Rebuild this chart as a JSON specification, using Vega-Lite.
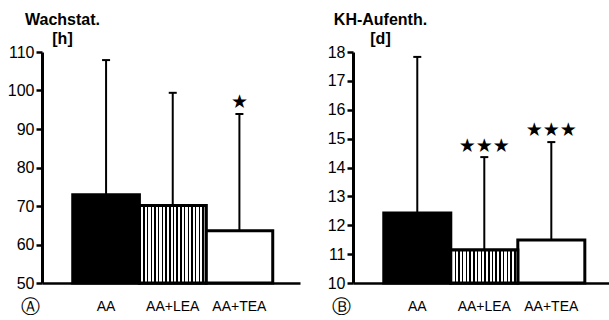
{
  "$schema": "https://vega.github.io/schema/vega-lite/v6.json",
  "padding": {"left": 7, "top": 11, "right": 0, "bottom": 0},
  "background": "white",
  "config": {
    "view": {"stroke": null},
    "font": "Liberation Sans",
    "axisY": {"domainColor": "black", "domainWidth": 3, "tickColor": "black", "tickWidth": 2.5, "tickSize": 6, "labelPadding": 2, "labelFontSize": 16, "labelColor": "black", "grid": false, "titleAngle": 0, "titleAlign": "center", "titleBaseline": "alphabetic", "titleFontSize": 16, "titleFontWeight": "bold", "titleLineHeight": 19, "titleColor": "black", "titleY": -28},
    "axisX": {"domainColor": "black", "domainWidth": 2.5, "ticks": false, "labelAngle": 0, "labelFontSize": 14, "labelColor": "black", "labelPadding": 23, "labelBaseline": "middle", "titleFontSize": 19, "titleFontWeight": "normal", "titleColor": "black", "titleAlign": "center", "titleBaseline": "middle", "titleX": -12, "titleY": 23, "titleFont": "DejaVu Sans"}
  },
  "datasets": {
    "a": [
      {"group": "AA", "mean": 72.9, "top": 107.9, "star": null, "stars": null},
      {"group": "AA+LEA", "mean": 70.1, "top": 99.4, "star": null, "stars": null},
      {"group": "AA+TEA", "mean": 63.6, "top": 93.9, "star": 97, "stars": "★"}
    ],
    "b": [
      {"group": "AA", "mean": 12.42, "top": 17.83, "star": null, "stars": null},
      {"group": "AA+LEA", "mean": 11.14, "top": 14.36, "star": 14.74, "stars": "★★★"},
      {"group": "AA+TEA", "mean": 11.49, "top": 14.88, "star": 15.3, "stars": "★★★"}
    ]
  },
  "spacing": 53,
  "bounds": "flush",
  "hconcat": [
    {
      "width": 258,
      "height": 231,
      "data": {"name": "a"},
      "encoding": {
        "x": {"field": "group", "type": "nominal", "sort": null, "scale": {"paddingInner": 0, "paddingOuter": 0.435, "align": 0.53}, "axis": {"title": "Ⓐ"}}
      },
      "layer": [
        {
          "mark": {"type": "bar", "stroke": "black", "strokeWidth": 3},
          "encoding": {
            "y": {"field": "mean", "type": "quantitative", "scale": {"domain": [50, 110], "zero": false, "nice": false}, "axis": {"title": ["Wachstat.", "[h]"], "values": [50, 60, 70, 80, 90, 100, 110], "titleX": 20}},
            "y2": {"datum": 50},
            "fill": {"condition": {"test": "datum.group === 'AA'", "value": "black"}, "value": "white"}
          }
        },
        {
          "transform": [{"filter": "datum.group === 'AA+LEA'"}],
          "mark": {"type": "bar", "stroke": "black", "strokeWidth": 3, "fill": {"gradient": "linear", "x1": 0, "x2": 1, "y1": 0, "y2": 0, "stops": [
            {"offset": 0, "color": "black"}, {"offset": 0.0222, "color": "black"}, {"offset": 0.0222, "color": "white"}, {"offset": 0.0556, "color": "white"},
            {"offset": 0.0556, "color": "black"}, {"offset": 0.0778, "color": "black"}, {"offset": 0.0778, "color": "white"}, {"offset": 0.1111, "color": "white"},
            {"offset": 0.1111, "color": "black"}, {"offset": 0.1333, "color": "black"}, {"offset": 0.1333, "color": "white"}, {"offset": 0.1667, "color": "white"},
            {"offset": 0.1667, "color": "black"}, {"offset": 0.1889, "color": "black"}, {"offset": 0.1889, "color": "white"}, {"offset": 0.2222, "color": "white"},
            {"offset": 0.2222, "color": "black"}, {"offset": 0.2444, "color": "black"}, {"offset": 0.2444, "color": "white"}, {"offset": 0.2778, "color": "white"},
            {"offset": 0.2778, "color": "black"}, {"offset": 0.3, "color": "black"}, {"offset": 0.3, "color": "white"}, {"offset": 0.3333, "color": "white"},
            {"offset": 0.3333, "color": "black"}, {"offset": 0.3556, "color": "black"}, {"offset": 0.3556, "color": "white"}, {"offset": 0.3889, "color": "white"},
            {"offset": 0.3889, "color": "black"}, {"offset": 0.4111, "color": "black"}, {"offset": 0.4111, "color": "white"}, {"offset": 0.4444, "color": "white"},
            {"offset": 0.4444, "color": "black"}, {"offset": 0.4667, "color": "black"}, {"offset": 0.4667, "color": "white"}, {"offset": 0.5, "color": "white"},
            {"offset": 0.5, "color": "black"}, {"offset": 0.5222, "color": "black"}, {"offset": 0.5222, "color": "white"}, {"offset": 0.5556, "color": "white"},
            {"offset": 0.5556, "color": "black"}, {"offset": 0.5778, "color": "black"}, {"offset": 0.5778, "color": "white"}, {"offset": 0.6111, "color": "white"},
            {"offset": 0.6111, "color": "black"}, {"offset": 0.6333, "color": "black"}, {"offset": 0.6333, "color": "white"}, {"offset": 0.6667, "color": "white"},
            {"offset": 0.6667, "color": "black"}, {"offset": 0.6889, "color": "black"}, {"offset": 0.6889, "color": "white"}, {"offset": 0.7222, "color": "white"},
            {"offset": 0.7222, "color": "black"}, {"offset": 0.7444, "color": "black"}, {"offset": 0.7444, "color": "white"}, {"offset": 0.7778, "color": "white"},
            {"offset": 0.7778, "color": "black"}, {"offset": 0.8, "color": "black"}, {"offset": 0.8, "color": "white"}, {"offset": 0.8333, "color": "white"},
            {"offset": 0.8333, "color": "black"}, {"offset": 0.8556, "color": "black"}, {"offset": 0.8556, "color": "white"}, {"offset": 0.8889, "color": "white"},
            {"offset": 0.8889, "color": "black"}, {"offset": 0.9111, "color": "black"}, {"offset": 0.9111, "color": "white"}, {"offset": 0.9444, "color": "white"},
            {"offset": 0.9444, "color": "black"}, {"offset": 0.9667, "color": "black"}, {"offset": 0.9667, "color": "white"}, {"offset": 1, "color": "white"}
          ]}},
          "encoding": {
            "y": {"field": "mean", "type": "quantitative", "scale": {"domain": [50, 110], "zero": false, "nice": false}, "axis": {"title": ["Wachstat.", "[h]"], "values": [50, 60, 70, 80, 90, 100, 110], "titleX": 20}},
            "y2": {"datum": 50}
          }
        },
        {
          "mark": {"type": "rule", "color": "black", "strokeWidth": 2},
          "encoding": {
            "y": {"field": "mean", "type": "quantitative", "scale": {"domain": [50, 110], "zero": false, "nice": false}, "axis": {"title": ["Wachstat.", "[h]"], "values": [50, 60, 70, 80, 90, 100, 110], "titleX": 20}},
            "y2": {"field": "top"}
          }
        },
        {
          "mark": {"type": "tick", "orient": "horizontal", "size": 8, "thickness": 2, "color": "black", "opacity": 1},
          "encoding": {
            "y": {"field": "top", "type": "quantitative", "scale": {"domain": [50, 110], "zero": false, "nice": false}, "axis": {"title": ["Wachstat.", "[h]"], "values": [50, 60, 70, 80, 90, 100, 110], "titleX": 20}}
          }
        },
        {
          "transform": [{"filter": "datum.star != null"}],
          "mark": {"type": "text", "font": "DejaVu Sans", "fontSize": 19, "color": "black", "baseline": "middle", "align": "center"},
          "encoding": {
            "y": {"field": "star", "type": "quantitative", "scale": {"domain": [50, 110], "zero": false, "nice": false}, "axis": {"title": ["Wachstat.", "[h]"], "values": [50, 60, 70, 80, 90, 100, 110], "titleX": 20}},
            "text": {"field": "stars"}
          }
        }
      ]
    },
    {
      "width": 256,
      "height": 231,
      "data": {"name": "b"},
      "encoding": {
        "x": {"field": "group", "type": "nominal", "sort": null, "scale": {"paddingInner": 0, "paddingOuter": 0.41, "align": 0.56}, "axis": {"title": "Ⓑ"}}
      },
      "layer": [
        {
          "mark": {"type": "bar", "stroke": "black", "strokeWidth": 3},
          "encoding": {
            "y": {"field": "mean", "type": "quantitative", "scale": {"domain": [10, 18], "zero": false, "nice": false}, "axis": {"title": ["KH-Aufenth.", "[d]"], "values": [10, 11, 12, 13, 14, 15, 16, 17, 18], "titleX": 27}},
            "y2": {"datum": 10},
            "fill": {"condition": {"test": "datum.group === 'AA'", "value": "black"}, "value": "white"}
          }
        },
        {
          "transform": [{"filter": "datum.group === 'AA+LEA'"}],
          "mark": {"type": "bar", "stroke": "black", "strokeWidth": 3, "fill": {"gradient": "linear", "x1": 0, "x2": 1, "y1": 0, "y2": 0, "stops": [
            {"offset": 0, "color": "black"}, {"offset": 0.0222, "color": "black"}, {"offset": 0.0222, "color": "white"}, {"offset": 0.0556, "color": "white"},
            {"offset": 0.0556, "color": "black"}, {"offset": 0.0778, "color": "black"}, {"offset": 0.0778, "color": "white"}, {"offset": 0.1111, "color": "white"},
            {"offset": 0.1111, "color": "black"}, {"offset": 0.1333, "color": "black"}, {"offset": 0.1333, "color": "white"}, {"offset": 0.1667, "color": "white"},
            {"offset": 0.1667, "color": "black"}, {"offset": 0.1889, "color": "black"}, {"offset": 0.1889, "color": "white"}, {"offset": 0.2222, "color": "white"},
            {"offset": 0.2222, "color": "black"}, {"offset": 0.2444, "color": "black"}, {"offset": 0.2444, "color": "white"}, {"offset": 0.2778, "color": "white"},
            {"offset": 0.2778, "color": "black"}, {"offset": 0.3, "color": "black"}, {"offset": 0.3, "color": "white"}, {"offset": 0.3333, "color": "white"},
            {"offset": 0.3333, "color": "black"}, {"offset": 0.3556, "color": "black"}, {"offset": 0.3556, "color": "white"}, {"offset": 0.3889, "color": "white"},
            {"offset": 0.3889, "color": "black"}, {"offset": 0.4111, "color": "black"}, {"offset": 0.4111, "color": "white"}, {"offset": 0.4444, "color": "white"},
            {"offset": 0.4444, "color": "black"}, {"offset": 0.4667, "color": "black"}, {"offset": 0.4667, "color": "white"}, {"offset": 0.5, "color": "white"},
            {"offset": 0.5, "color": "black"}, {"offset": 0.5222, "color": "black"}, {"offset": 0.5222, "color": "white"}, {"offset": 0.5556, "color": "white"},
            {"offset": 0.5556, "color": "black"}, {"offset": 0.5778, "color": "black"}, {"offset": 0.5778, "color": "white"}, {"offset": 0.6111, "color": "white"},
            {"offset": 0.6111, "color": "black"}, {"offset": 0.6333, "color": "black"}, {"offset": 0.6333, "color": "white"}, {"offset": 0.6667, "color": "white"},
            {"offset": 0.6667, "color": "black"}, {"offset": 0.6889, "color": "black"}, {"offset": 0.6889, "color": "white"}, {"offset": 0.7222, "color": "white"},
            {"offset": 0.7222, "color": "black"}, {"offset": 0.7444, "color": "black"}, {"offset": 0.7444, "color": "white"}, {"offset": 0.7778, "color": "white"},
            {"offset": 0.7778, "color": "black"}, {"offset": 0.8, "color": "black"}, {"offset": 0.8, "color": "white"}, {"offset": 0.8333, "color": "white"},
            {"offset": 0.8333, "color": "black"}, {"offset": 0.8556, "color": "black"}, {"offset": 0.8556, "color": "white"}, {"offset": 0.8889, "color": "white"},
            {"offset": 0.8889, "color": "black"}, {"offset": 0.9111, "color": "black"}, {"offset": 0.9111, "color": "white"}, {"offset": 0.9444, "color": "white"},
            {"offset": 0.9444, "color": "black"}, {"offset": 0.9667, "color": "black"}, {"offset": 0.9667, "color": "white"}, {"offset": 1, "color": "white"}
          ]}},
          "encoding": {
            "y": {"field": "mean", "type": "quantitative", "scale": {"domain": [10, 18], "zero": false, "nice": false}, "axis": {"title": ["KH-Aufenth.", "[d]"], "values": [10, 11, 12, 13, 14, 15, 16, 17, 18], "titleX": 27}},
            "y2": {"datum": 10}
          }
        },
        {
          "mark": {"type": "rule", "color": "black", "strokeWidth": 2},
          "encoding": {
            "y": {"field": "mean", "type": "quantitative", "scale": {"domain": [10, 18], "zero": false, "nice": false}, "axis": {"title": ["KH-Aufenth.", "[d]"], "values": [10, 11, 12, 13, 14, 15, 16, 17, 18], "titleX": 27}},
            "y2": {"field": "top"}
          }
        },
        {
          "mark": {"type": "tick", "orient": "horizontal", "size": 8, "thickness": 2, "color": "black", "opacity": 1},
          "encoding": {
            "y": {"field": "top", "type": "quantitative", "scale": {"domain": [10, 18], "zero": false, "nice": false}, "axis": {"title": ["KH-Aufenth.", "[d]"], "values": [10, 11, 12, 13, 14, 15, 16, 17, 18], "titleX": 27}}
          }
        },
        {
          "transform": [{"filter": "datum.star != null"}],
          "mark": {"type": "text", "font": "DejaVu Sans", "fontSize": 19, "color": "black", "baseline": "middle", "align": "center"},
          "encoding": {
            "y": {"field": "star", "type": "quantitative", "scale": {"domain": [10, 18], "zero": false, "nice": false}, "axis": {"title": ["KH-Aufenth.", "[d]"], "values": [10, 11, 12, 13, 14, 15, 16, 17, 18], "titleX": 27}},
            "text": {"field": "stars"}
          }
        }
      ]
    }
  ]
}
